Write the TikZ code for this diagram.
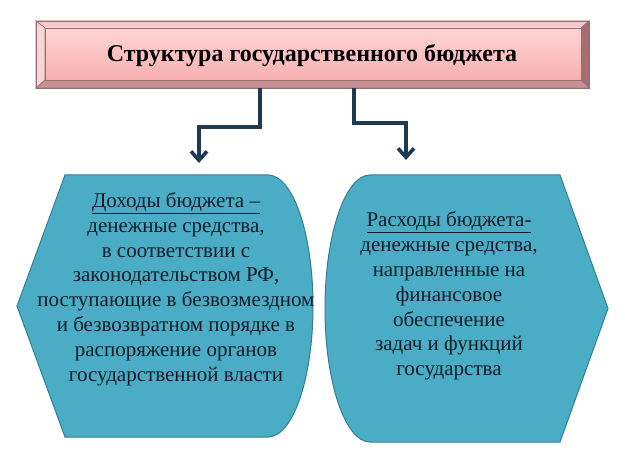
\documentclass[tikz,border=0pt]{standalone}
\usepackage{fontspec}
\setmainfont{Liberation Serif}
\newfontfamily\boxfont{Liberation Serif}
\usepackage{xcolor}
\usetikzlibrary{arrows.meta}
\definecolor{shapefill}{RGB}{75,172,198}
\definecolor{shapeline}{RGB}{50,128,150}
\definecolor{linkcol}{RGB}{30,57,84}
\begin{document}
\begin{tikzpicture}[x=1pt,y=-1pt,
  shapebox/.style={fill=shapefill,draw=shapeline,line width=1pt},
  bevel/.style={draw={rgb,255:red,150;green,110;blue,112},line width=0.6pt},
  link/.style={draw=linkcol,line width=3.6pt,-{Straight Barb[length=9pt,width=16pt]}},
  bodytext/.style={align=center,font=\boxfont\fontsize{21}{24.8}\selectfont,text={rgb,255:red,20;green,28;blue,38}}]
\useasboundingbox (0,0) rectangle (625,468);
\fill[white] (0,0) rectangle (625,468);
\fill[bevel,fill={rgb,255:red,246;green,202;blue,202}] (36,21) -- (589,21) -- (581,28) -- (45,28) -- cycle;
\fill[bevel,fill={rgb,255:red,249;green,214;blue,214}] (36,21) -- (45,28) -- (45,80) -- (36,88) -- cycle;
\fill[bevel,fill={rgb,255:red,165;green,111;blue,114}] (589,21) -- (589,88) -- (581,80) -- (581,28) -- cycle;
\fill[bevel,fill={rgb,255:red,201;green,147;blue,150}] (36,88) -- (45,80) -- (581,80) -- (589,88) -- cycle;
\shade[top color={rgb,255:red,255;green,212;blue,212},bottom color={rgb,255:red,247;green,176;blue,176}] (45,28) rectangle (581,80);
\draw[bevel] (36,21) rectangle (589,88) (45,28) rectangle (581,80);
\node[font=\boxfont\fontsize{24}{28}\selectfont\bfseries] (title) at (312,56) {Структура государственного бюджета};
\draw[shapebox] (65,175) -- (268,175) arc[start angle=90,end angle=-90,x radius=45pt,y radius=131pt] -- (65,437) -- (17,306) -- cycle;
\draw[shapebox] (560,175) -- (608,308.5) -- (560,442) -- (370,442) arc[start angle=270,end angle=90,x radius=45pt,y radius=133.5pt] -- cycle;
\node[bodytext] (income) at (176,289) {\underline{Доходы бюджета –}\\денежные средства,\\в соответствии с\\законодательством РФ,\\поступающие в безвозмездном\\и безвозвратном порядке в\\распоряжение органов\\государственной власти};
\node[bodytext] (expense) at (449,296) {\underline{Расходы бюджета-}\\денежные средства,\\направленные на\\финансовое\\обеспечение\\задач и функций\\государства};
\coordinate (lstart) at (260,88);
\coordinate (lend) at (199,163);
\coordinate (rstart) at (354,88);
\coordinate (rend) at (406,160);
\draw[link] (lstart) |- (199,127) -- (lend);
\draw[link] (rstart) |- (406,123) -- (rend);
\end{tikzpicture}
\end{document}
